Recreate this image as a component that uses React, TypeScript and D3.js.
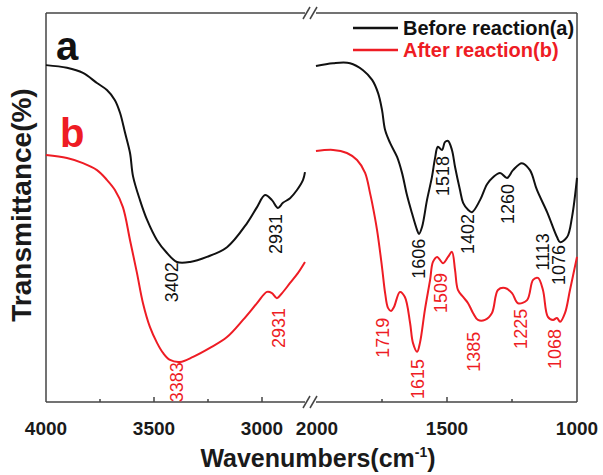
import React, { useEffect, useRef } from 'react';
import * as d3 from 'd3';

// [wavenumber (cm-1), transmittance (a.u. %)]
const beforeHigh: [number, number][] = [
  [4000, 86.6], [3903, 85.9], [3829, 84.6], [3764, 82.0], [3718, 80.2], [3681, 77.6],
  [3657, 74.3], [3634, 69.2], [3611, 64.0], [3597, 58.0], [3565, 51.9], [3532, 46.8],
  [3486, 41.6], [3440, 38.3], [3394, 36.0], [3333, 36.0], [3255, 37.3], [3162, 39.8],
  [3069, 46.0], [3023, 50.1], [2986, 53.2], [2954, 51.9], [2926, 49.9], [2903, 51.2],
  [2870, 52.4], [2838, 54.5], [2810, 57.1], [2801, 59.1],
];
const afterHigh: [number, number][] = [
  [4000, 63.5], [3903, 62.7], [3829, 61.4], [3764, 59.6], [3718, 57.1], [3681, 54.5],
  [3644, 50.1], [3611, 41.6], [3579, 33.2], [3551, 25.4], [3519, 19.3], [3486, 15.2],
  [3458, 12.6], [3426, 10.8], [3380, 10.3], [3319, 11.6], [3241, 13.9], [3162, 16.7],
  [3088, 21.1], [3023, 25.4], [2977, 28.3], [2954, 28.0], [2931, 26.7], [2907, 28.0],
  [2870, 30.6], [2833, 33.2], [2801, 36.0],
];
const beforeLow: [number, number][] = [
  [2004, 86.4], [1938, 87.1], [1873, 87.1], [1823, 85.3], [1788, 82.8], [1765, 79.4],
  [1750, 75.1], [1738, 69.9], [1719, 66.6], [1692, 63.0], [1673, 58.9], [1654, 53.2],
  [1635, 48.6], [1615, 44.2], [1608, 43.2], [1596, 45.0], [1577, 51.9], [1558, 57.8],
  [1546, 62.7], [1535, 65.6], [1519, 64.8], [1508, 66.8], [1496, 67.1], [1481, 64.8],
  [1469, 60.4], [1450, 54.5], [1438, 51.2], [1419, 49.4], [1404, 48.8], [1373, 51.9],
  [1346, 56.0], [1323, 57.8], [1296, 58.9], [1269, 57.6], [1246, 59.6], [1212, 61.4],
  [1181, 59.6], [1154, 54.5], [1115, 48.8], [1077, 42.4], [1065, 41.1], [1038, 42.4],
  [1019, 47.6], [1000, 57.6],
];
const afterLow: [number, number][] = [
  [2004, 64.5], [1938, 64.8], [1885, 64.0], [1846, 62.2], [1815, 58.9], [1796, 53.7],
  [1788, 51.2], [1769, 44.2], [1750, 34.7], [1738, 28.0], [1727, 24.2], [1715, 23.4],
  [1704, 24.4], [1681, 28.3], [1662, 27.0], [1642, 20.3], [1631, 15.2], [1615, 12.9],
  [1604, 15.2], [1585, 23.7], [1565, 31.4], [1554, 36.0], [1538, 37.3], [1515, 35.7],
  [1496, 37.3], [1481, 38.6], [1469, 33.9], [1458, 28.8], [1438, 27.0], [1419, 25.4],
  [1400, 22.9], [1381, 21.1], [1354, 21.1], [1327, 22.9], [1304, 28.8], [1277, 29.3],
  [1250, 28.0], [1227, 25.4], [1192, 26.2], [1169, 31.4], [1150, 31.9], [1131, 28.8],
  [1112, 21.9], [1092, 21.1], [1077, 21.6], [1065, 20.6], [1046, 22.9], [1027, 28.8],
  [1000, 37.3],
];

// peak labels: [text, wavenumber where label sits, transmittance at label centre]
const beforePeaksHigh: [string, number, number][] = [['3402', 3417, 30.8], ['2931', 2935, 43.2]];
const afterPeaksHigh: [string, number, number][] = [['3383', 3394, 5.1], ['2931', 2921, 19.0]];
const beforePeaksLow: [string, number, number][] = [
  ['1606', 1608, 36.8], ['1518', 1515, 58.1], ['1402', 1419, 43.2], ['1260', 1265, 50.9],
  ['1113', 1131, 38.6], ['1076', 1069, 35.2],
];
const afterPeaksLow: [string, number, number][] = [
  ['1719', 1746, 16.5], ['1615', 1612, 5.9], ['1509', 1523, 28.0], ['1385', 1396, 12.9],
  ['1225', 1215, 18.8], ['1068', 1085, 13.6],
];

const highMajor = [4000, 3500, 3000];
const highMinor = [3750, 3250];
const lowMajor = [2000, 1500, 1000];
const lowMinor = [1750, 1250];

const seriesNames = ['Before reaction(a)', 'After reaction(b)'];

const BLACK = '#111111';
const RED = '#ee1c24';
const FONT = '"Liberation Sans", Arial, sans-serif';

export default function App() {
  const ref = useRef<SVGSVGElement>(null);

  useEffect(() => {
    const svg = d3.select(ref.current);
    svg.selectAll('*').remove();

    const left = 46, right = 577, top = 13, bottom = 402;
    const breakL = 305, breakR = 316;

    const xH = d3.scaleLinear().domain([4000, 2750]).range([left, 316]);
    const xL = d3.scaleLinear().domain([2000, 1000]).range([317, right]);
    const y = d3.scaleLinear().domain([0, 100]).range([bottom, top]);

    const g = svg.append('g');

    // frame
    const frame = '#444';
    const fw = 1.5;
    g.append('line').attr('x1', left).attr('x2', left).attr('y1', top).attr('y2', bottom).attr('stroke', frame).attr('stroke-width', fw);
    g.append('line').attr('x1', right).attr('x2', right).attr('y1', top).attr('y2', bottom).attr('stroke', frame).attr('stroke-width', fw);
    [top, bottom].forEach((yy) => {
      g.append('line').attr('x1', left).attr('x2', breakL).attr('y1', yy).attr('y2', yy).attr('stroke', frame).attr('stroke-width', fw);
      g.append('line').attr('x1', breakR).attr('x2', right).attr('y1', yy).attr('y2', yy).attr('stroke', frame).attr('stroke-width', fw);
      // break slashes
      [0, 7].forEach((o) => {
        g.append('line')
          .attr('x1', breakL - 2 + o).attr('y1', yy + 6)
          .attr('x2', breakL + 5 + o).attr('y2', yy - 6)
          .attr('stroke', frame).attr('stroke-width', fw);
      });
    });

    // ticks (inward)
    const tick = (x: number, len: number) =>
      g.append('line').attr('x1', x).attr('x2', x).attr('y1', bottom).attr('y2', bottom - len)
        .attr('stroke', frame).attr('stroke-width', 1.5);
    highMajor.slice(1).forEach((v) => tick(xH(v), 5));
    highMinor.forEach((v) => tick(xH(v), 3));
    lowMajor.slice(1, 2).forEach((v) => tick(xL(v), 5));
    lowMinor.forEach((v) => tick(xL(v), 3));

    // tick labels
    const tl = (x: number, t: number) =>
      g.append('text').attr('x', x).attr('y', 435).attr('text-anchor', 'middle')
        .attr('font-family', FONT).attr('font-weight', 'bold').attr('font-size', 19)
        .attr('fill', '#1a1a1a').text(t);
    highMajor.forEach((v) => tl(xH(v), v));
    lowMajor.forEach((v) => tl(xL(v), v));

    // axis titles
    const xt = g.append('text').attr('x', 318).attr('y', 467).attr('text-anchor', 'middle')
      .attr('font-family', FONT).attr('font-weight', 'bold').attr('font-size', 25).attr('fill', '#1a1a1a');
    xt.append('tspan').text('Wavenumbers(cm');
    xt.append('tspan').attr('font-size', 14).attr('dy', -10).text('-1');
    xt.append('tspan').attr('dy', 10).text(')');

    g.append('text').attr('transform', `translate(31,205) rotate(-90)`).attr('text-anchor', 'middle')
      .attr('font-family', FONT).attr('font-weight', 'bold').attr('font-size', 28).attr('fill', '#1a1a1a')
      .text('Transmittance(%)');

    // curves
    const mk = (xs: d3.ScaleLinear<number, number>) =>
      d3.line<[number, number]>().x((d) => xs(d[0])).y((d) => y(d[1])).curve(d3.curveCatmullRom.alpha(0.5));
    const draw = (data: [number, number][], xs: d3.ScaleLinear<number, number>, color: string) =>
      g.append('path').attr('d', mk(xs)(data) as string).attr('fill', 'none')
        .attr('stroke', color).attr('stroke-width', 2).attr('stroke-linejoin', 'round');
    draw(beforeHigh, xH, BLACK);
    draw(afterHigh, xH, RED);
    draw(beforeLow, xL, BLACK);
    draw(afterLow, xL, RED);

    // peak labels
    const peaks = (list: [string, number, number][], xs: d3.ScaleLinear<number, number>, color: string) =>
      list.forEach(([t, w, v]) => {
        g.append('text').attr('transform', `translate(${xs(w)},${y(v)}) rotate(-90)`)
          .attr('text-anchor', 'middle').attr('dominant-baseline', 'central')
          .attr('font-family', FONT).attr('font-size', 18).attr('fill', color).text(t);
      });
    peaks(beforePeaksHigh, xH, BLACK);
    peaks(afterPeaksHigh, xH, RED);
    peaks(beforePeaksLow, xL, BLACK);
    peaks(afterPeaksLow, xL, RED);

    // a / b labels
    g.append('text').attr('x', 56).attr('y', 60).attr('font-family', FONT).attr('font-weight', 'bold')
      .attr('font-size', 40).attr('fill', BLACK).text('a');
    g.append('text').attr('x', 60).attr('y', 147).attr('font-family', FONT).attr('font-weight', 'bold')
      .attr('font-size', 40).attr('fill', RED).text('b');

    // legend
    [BLACK, RED].forEach((c, i) => {
      const yy = 28 + i * 22;
      g.append('line').attr('x1', 353).attr('x2', 398).attr('y1', yy).attr('y2', yy).attr('stroke', c).attr('stroke-width', 2.5);
      g.append('text').attr('x', 403).attr('y', yy + 7).attr('font-family', FONT).attr('font-weight', 'bold')
        .attr('font-size', 20).attr('fill', c).text(seriesNames[i]);
    });
  }, []);

  return (
    <svg ref={ref} width={603} height={475}
      style={{ position: 'absolute', left: 0, top: 0, background: '#fff', display: 'block' }} />
  );
}
